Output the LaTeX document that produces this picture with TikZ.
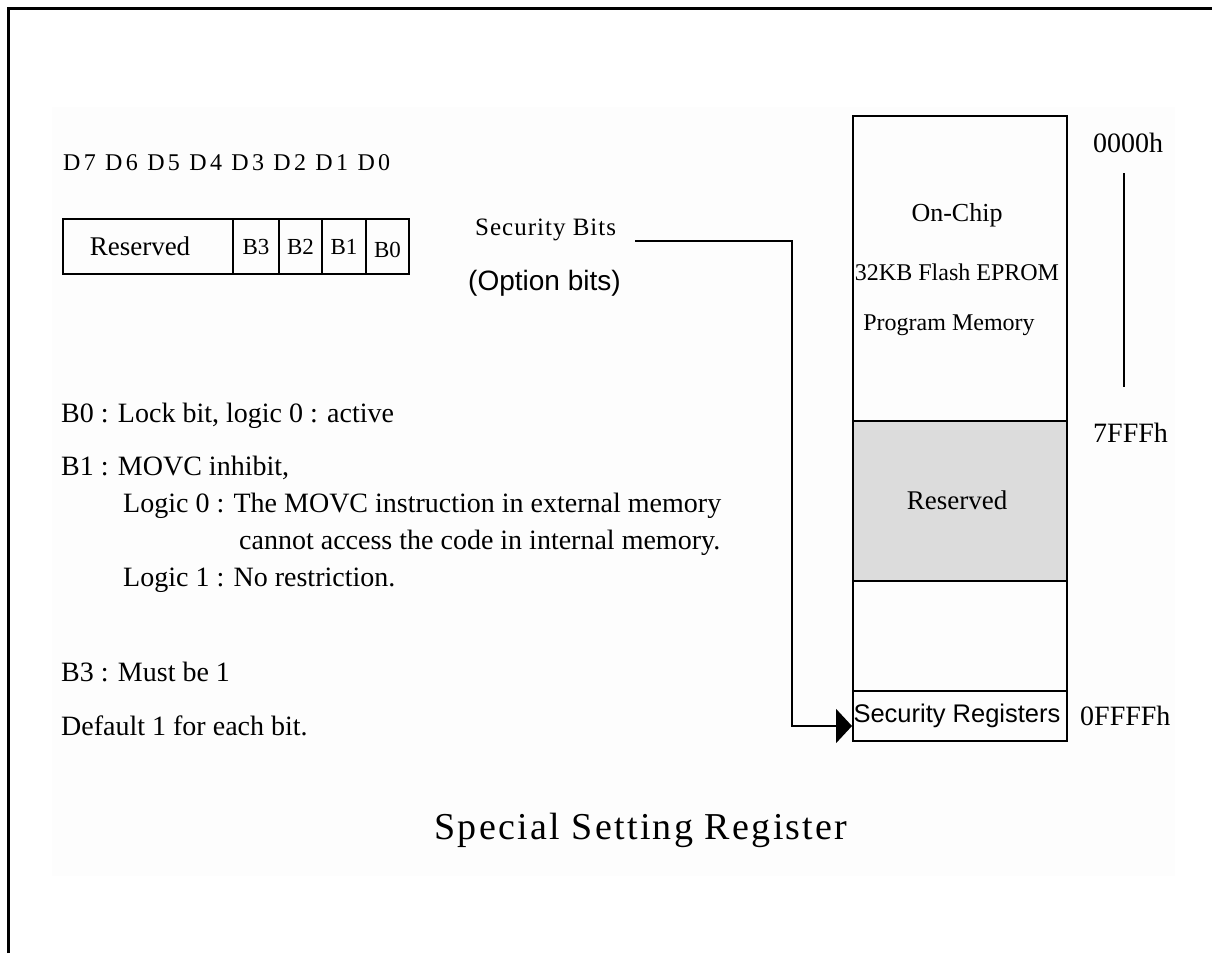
\documentclass[tikz,border=0pt]{standalone}
\usepackage{fontspec}
\setmainfont{Liberation Serif}
\newfontfamily\sansf{Liberation Sans}
\newfontfamily\spacedA[LetterSpace=14]{Liberation Serif}
\newfontfamily\spacedB[LetterSpace=6]{Liberation Serif}
\newfontfamily\spacedC[LetterSpace=4]{Liberation Serif}
\usetikzlibrary{arrows.meta}
\definecolor{panel}{RGB}{253,253,253}
\definecolor{resgray}{RGB}{220,220,220}
\tikzset{
  txt/.style={inner sep=0pt, anchor=west, font=\fontsize{28}{31}\selectfont},
  cell/.style={draw, line width=2pt, anchor=north west, inner sep=0pt},
  conn/.style={line width=2pt},
}
\begin{document}
\begin{tikzpicture}[x=1pt,y=-1pt]
\useasboundingbox (0,0) rectangle (1212,953);
% background panel and frame
\fill[panel] (52,107) rectangle (1175,876);
\draw[line width=3pt] (8,953) -- (8,8) -- (1212,8);

% bit header
\node[txt, font=\spacedA\fontsize{24}{28}\selectfont] (bits) at (63,163) {D7 D6 D5 D4 D3 D2 D1 D0};

% register box
\node[cell, minimum width=170pt, minimum height=55pt] (rres) at (62,218) {};
\node[cell, minimum width=46pt, minimum height=55pt] (rb3) at (232,218) {};
\node[cell, minimum width=43pt, minimum height=55pt] (rb2) at (278,218) {};
\node[cell, minimum width=44pt, minimum height=55pt] (rb1) at (321,218) {};
\node[cell, minimum width=43pt, minimum height=55pt] (rb0) at (365,218) {};
\node[inner sep=0pt, font=\fontsize{27}{30}\selectfont] at ([xshift=-8pt]rres.center) {Reserved};
\node[inner sep=0pt, font=\fontsize{23}{26}\selectfont] at (rb3.center) {B3};
\node[inner sep=0pt, font=\fontsize{23}{26}\selectfont] at (rb2.center) {B2};
\node[inner sep=0pt, font=\fontsize{23}{26}\selectfont] at (rb1.center) {B1};
\node[inner sep=0pt, font=\fontsize{23}{26}\selectfont] at ([yshift=-3pt]rb0.center) {B0};

% description text
\node[txt] (t1) at (61,416) {B0 : Lock bit, logic 0 : active};
\node[txt] (t2) at (61,468) {B1 : MOVC inhibit,};
\node[txt] (t3) at (123,506) {Logic 0 : The MOVC instruction in external memory};
\node[txt] (t4) at (239,543) {cannot access the code in internal memory.};
\node[txt] (t5) at (123,580) {Logic 1 : No restriction.};
\node[txt] (t6) at (61,672) {B3 : Must be 1};
\node[txt] (t7) at (61,726) {Default 1 for each bit.};

% security bits label
\node[txt, font=\spacedC\fontsize{25}{28}\selectfont] (secbits) at (475,230) {Security Bits};
\node[txt, font=\sansf\fontsize{28}{32}\selectfont] (optbits) at (468,283) {(Option bits)};

% memory map
\node[cell, minimum width=214pt, minimum height=305pt] (mem) at (852,115) {};
\node[cell, fill=resgray, minimum width=214pt, minimum height=160pt] (memres) at (852,420) {};
\node[cell, minimum width=214pt, minimum height=110pt] (memfree) at (852,580) {};
\node[cell, minimum width=214pt, minimum height=50pt] (secreg) at (852,690) {};
\node[inner sep=0pt, font=\fontsize{26}{30}\selectfont] (onchip) at (957,215) {On-Chip};
\node[inner sep=0pt, font=\fontsize{24}{28}\selectfont] (flash) at (957,272) {32KB Flash EPROM};
\node[inner sep=0pt, font=\fontsize{24}{28}\selectfont] (progmem) at (949,325) {Program Memory};
\node[inner sep=0pt, font=\fontsize{27}{30}\selectfont] (restxt) at (957,500) {Reserved};
\node[inner sep=0pt, font=\sansf\fontsize{25.5}{28}\selectfont] (sectxt) at (957,716) {Security Registers};

% addresses
\node[txt] (a0) at (1093,143) {0000h};
\node[txt] (a1) at (1093,433) {7FFFh};
\node[txt] (a2) at (1080,716) {0FFFFh};
\coordinate (vtop) at (1124,173);
\coordinate (vbot) at (1124,387);
\draw[conn] (vtop) -- (vbot);

% connector
\coordinate (sbstart) at (635,241);
\coordinate (turn1) at (792,241);
\coordinate (turn2) at (792,726);
\coordinate (arrend) at (852,726);
\draw[conn, -{Triangle[length=16pt, width=34pt]}] (sbstart) -- (turn1) -- (turn2) -- (arrend);

% title
\node[inner sep=0pt, font=\spacedB\fontsize{38}{44}\selectfont] (title) at (641,830) {Special Setting Register};
\end{tikzpicture}
\end{document}
